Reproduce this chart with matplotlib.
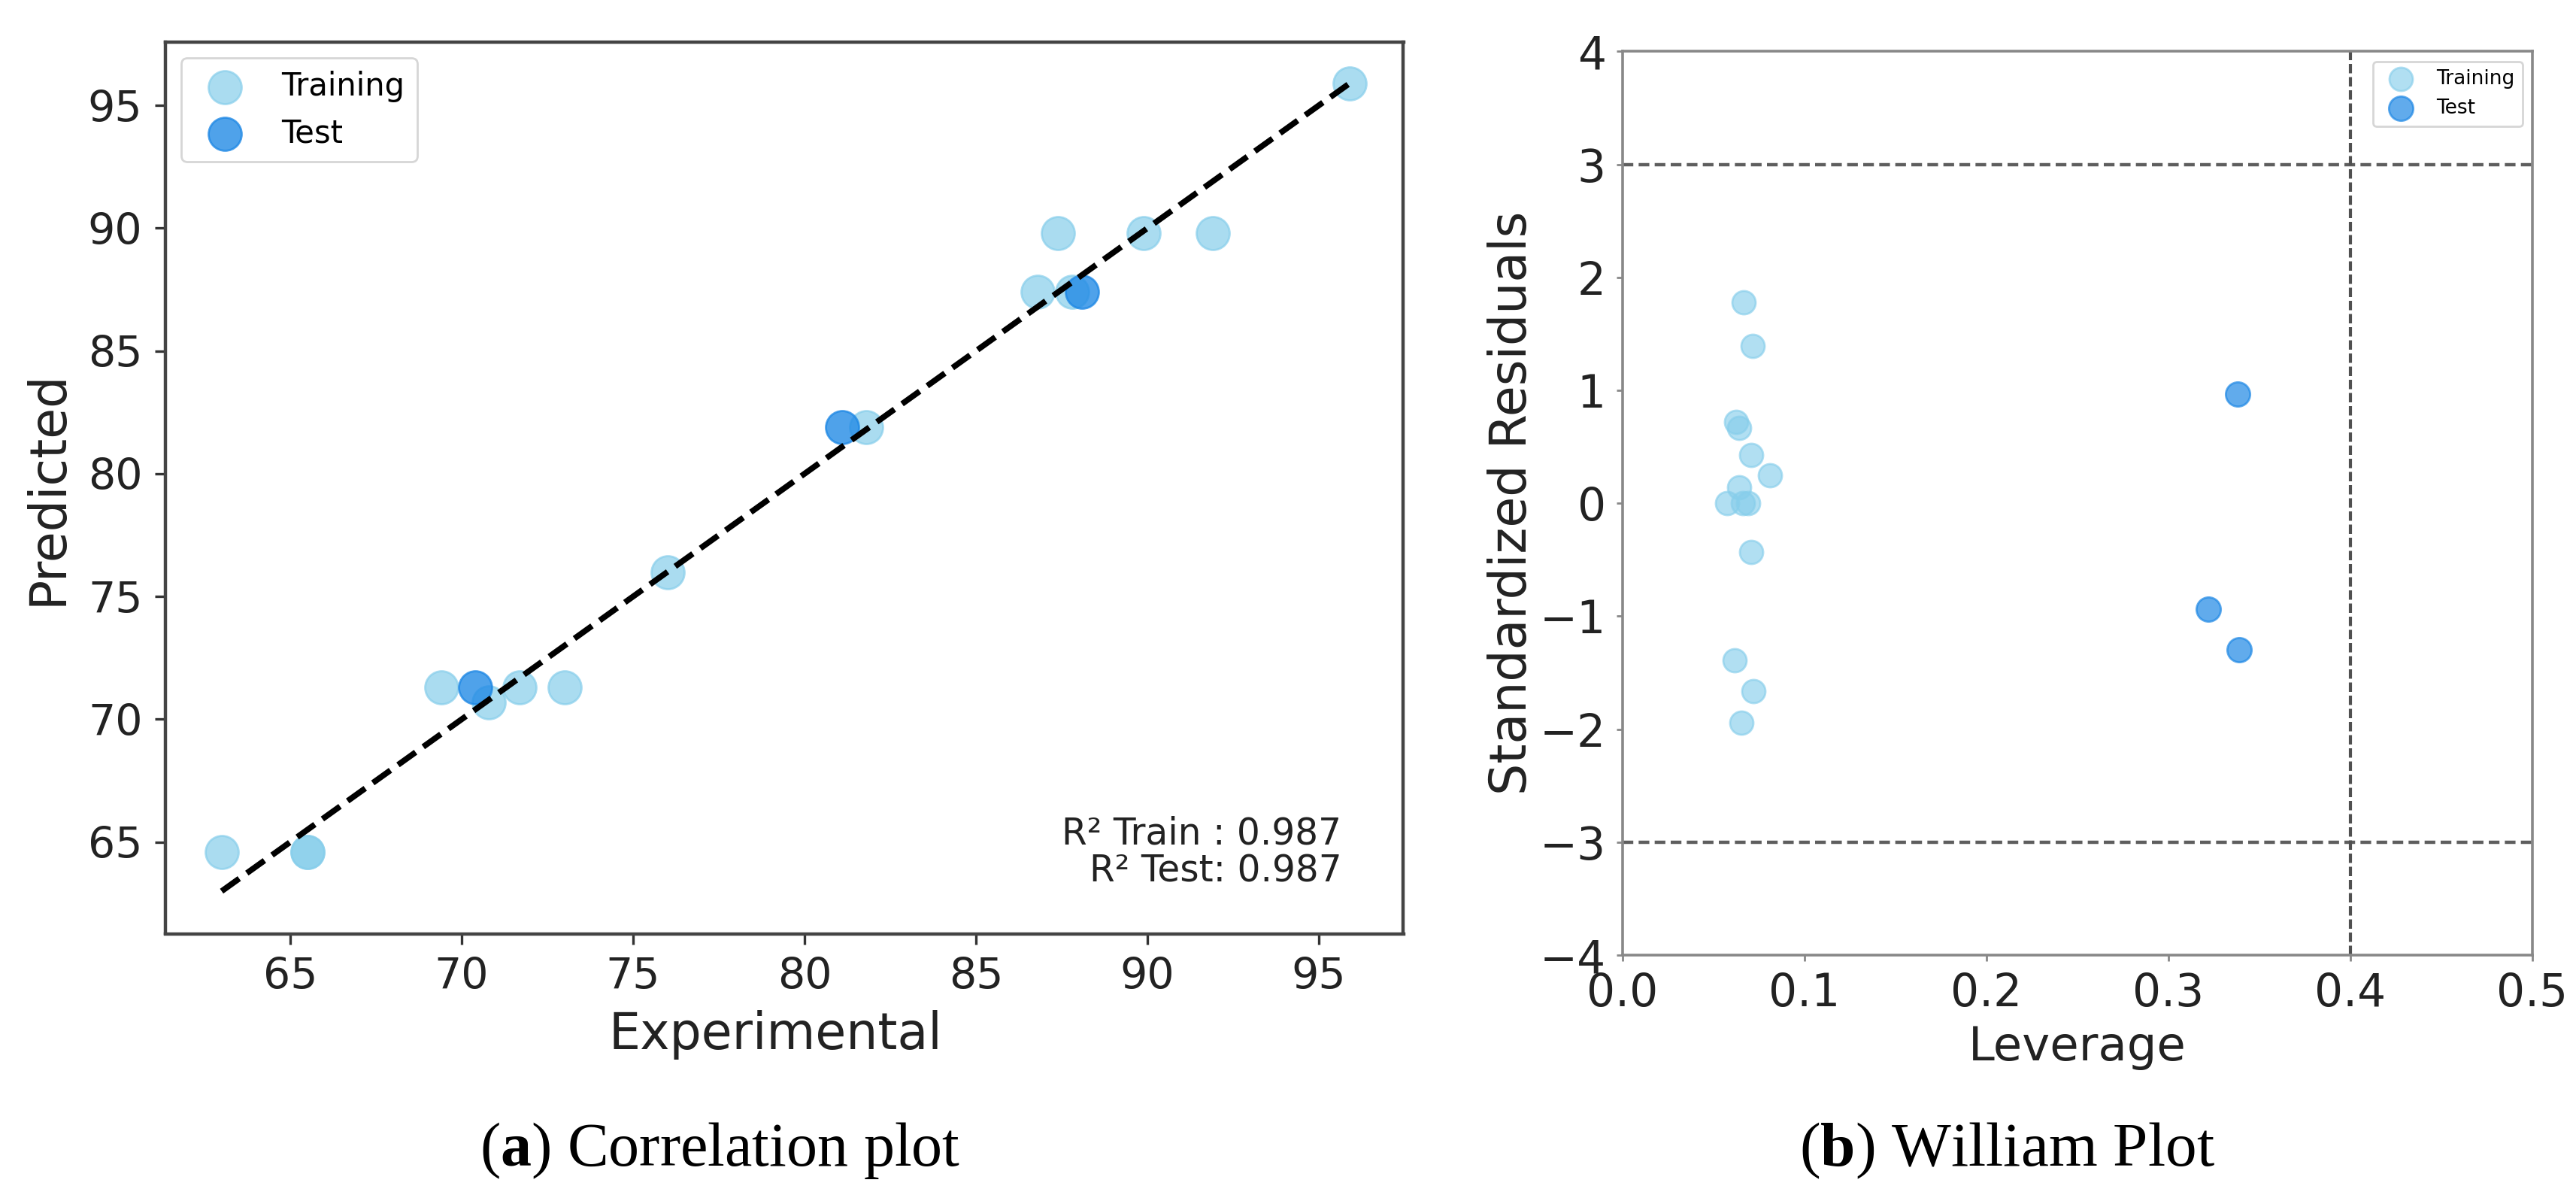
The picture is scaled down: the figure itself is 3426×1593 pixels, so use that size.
import matplotlib
matplotlib.use("Agg")
import matplotlib.pyplot as plt

plt.rcParams['font.family'] = ['DejaVu Sans']
plt.rcParams['mathtext.fontset'] = 'custom'
plt.rcParams['mathtext.rm'] = 'Liberation Serif'
plt.rcParams['mathtext.bf'] = 'Liberation Serif:bold'

# ---- Data: correlation plot ----
train_exp = [63.0, 65.5, 65.5, 69.4, 70.8, 71.7, 73.0, 76.0, 81.8, 86.8, 87.8, 87.4, 89.9, 91.9, 95.9]
train_pred = [64.6, 64.6, 64.6, 71.3, 70.7, 71.3, 71.3, 76.0, 81.9, 87.4, 87.4, 89.8, 89.8, 89.8, 95.9]
test_exp = [70.4, 81.1, 88.1]
test_pred = [71.3, 81.9, 87.4]
r2_train = 0.987
r2_test = 0.987
corr_ticks = [65, 70, 75, 80, 85, 90, 95]

# ---- Data: William plot ----
train_lev = [0.0667, 0.0714, 0.0625, 0.0641, 0.0706, 0.0811, 0.0641, 0.0575,
             0.0660, 0.0690, 0.0706, 0.0617, 0.0720, 0.0651]
train_res = [1.78, 1.39, 0.72, 0.67, 0.43, 0.25, 0.14, 0.0,
             0.0, 0.0, -0.43, -1.39, -1.66, -1.94]
test_lev = [0.338, 0.322, 0.339]
test_res = [0.97, -0.94, -1.30]
res_limit = 3
lev_threshold = 0.4
will_xticks = [0.0, 0.1, 0.2, 0.3, 0.4, 0.5]
will_yticks = [-4, -3, -2, -1, 0, 1, 2, 3, 4]

train_color = '#87CEEB'
test_color = '#1E88E5'

W, H = 3426, 1593
dpi = 200
fig = plt.figure(figsize=(W / dpi, H / dpi), dpi=dpi)

def frac(x0, y0, x1, y1):
    return [x0 / W, 1 - y1 / H, (x1 - x0) / W, (y1 - y0) / H]

# ---------------- Left: Correlation plot ----------------
ax1 = fig.add_axes(frac(220, 56, 1866.5, 1241.5))
ax1.scatter(train_exp, train_pred, s=250, color=train_color, alpha=0.7, label='Training')
ax1.scatter(test_exp, test_pred, s=250, color=test_color, alpha=0.78, label='Test')
lo = min(train_exp + test_exp)
hi = max(train_exp + test_exp)
ax1.plot([lo, hi], [lo, hi], 'k--', lw=2.8)
ax1.set_xlim(61.36, 97.47)
ax1.set_ylim(61.27, 97.58)
ax1.set_xticks(corr_ticks)
ax1.set_yticks(corr_ticks)
ax1.tick_params(labelsize=20.5, length=5, width=1.2, color='#333333', pad=6,
                labelcolor='#222222')
for sp in ax1.spines.values():
    sp.set_color('#444444')
    sp.set_linewidth(1.6)
ax1.set_xlabel('Experimental', fontsize=24, color='#222222')
ax1.set_ylabel('Predicted', fontsize=24, color='#222222')
ax1.xaxis.set_label_coords(0.4926, -0.086)
ax1.yaxis.set_label_coords(-0.0753, 0.5)
ax1.legend(loc='upper left', fontsize=15)
ax1.text(0.95, 0.05, f'R² Train : {r2_train:.3f}\nR² Test: {r2_test:.3f}',
         transform=ax1.transAxes, ha='right', va='bottom', multialignment='right',
         fontsize=17.5, linespacing=1.05, color='#222222')

# ---------------- Right: William plot ----------------
ax2 = fig.add_axes(frac(2158, 68.4, 3368, 1270))
ax2.scatter(train_lev, train_res, s=125, color=train_color, alpha=0.65, label='Training')
ax2.scatter(test_lev, test_res, s=135, color=test_color, alpha=0.7, label='Test')
ax2.axhline(res_limit, color='#5e5e5e', ls='--', lw=1.6, dashes=(3.2, 1.6))
ax2.axhline(-res_limit, color='#5e5e5e', ls='--', lw=1.6, dashes=(3.2, 1.6))
ax2.axvline(lev_threshold, color='#505050', ls='--', lw=1.5, dashes=(3.0, 1.2))
ax2.set_xlim(will_xticks[0], will_xticks[-1])
ax2.set_ylim(will_yticks[0], will_yticks[-1])
ax2.set_xticks(will_xticks)
ax2.set_yticks(will_yticks)
ax2.tick_params(labelsize=21.5, length=3, width=1, color='#888888', pad=5,
                labelcolor='#222222')
for sp in ax2.spines.values():
    sp.set_color('#888888')
    sp.set_linewidth(1.3)
ax2.set_xlabel('Leverage', fontsize=22.5, color='#222222')
ax2.set_ylabel('Standardized Residuals', fontsize=24, color='#222222')
ax2.xaxis.set_label_coords(0.5, -0.077)
ax2.yaxis.set_label_coords(-0.094, 0.5)
ax2.legend(loc='upper right', fontsize=9.5)

# ---------------- Captions ----------------
fig.text(958 / W, 1 - 1550 / H, r'($\mathbf{a}$) Correlation plot', ha='center',
         va='baseline', fontsize=29.5, family='Liberation Serif')
fig.text(2669 / W, 1 - 1550 / H, r'($\mathbf{b}$) William Plot', ha='center',
         va='baseline', fontsize=30, family='Liberation Serif')

fig.savefig('out.png', dpi=dpi)
